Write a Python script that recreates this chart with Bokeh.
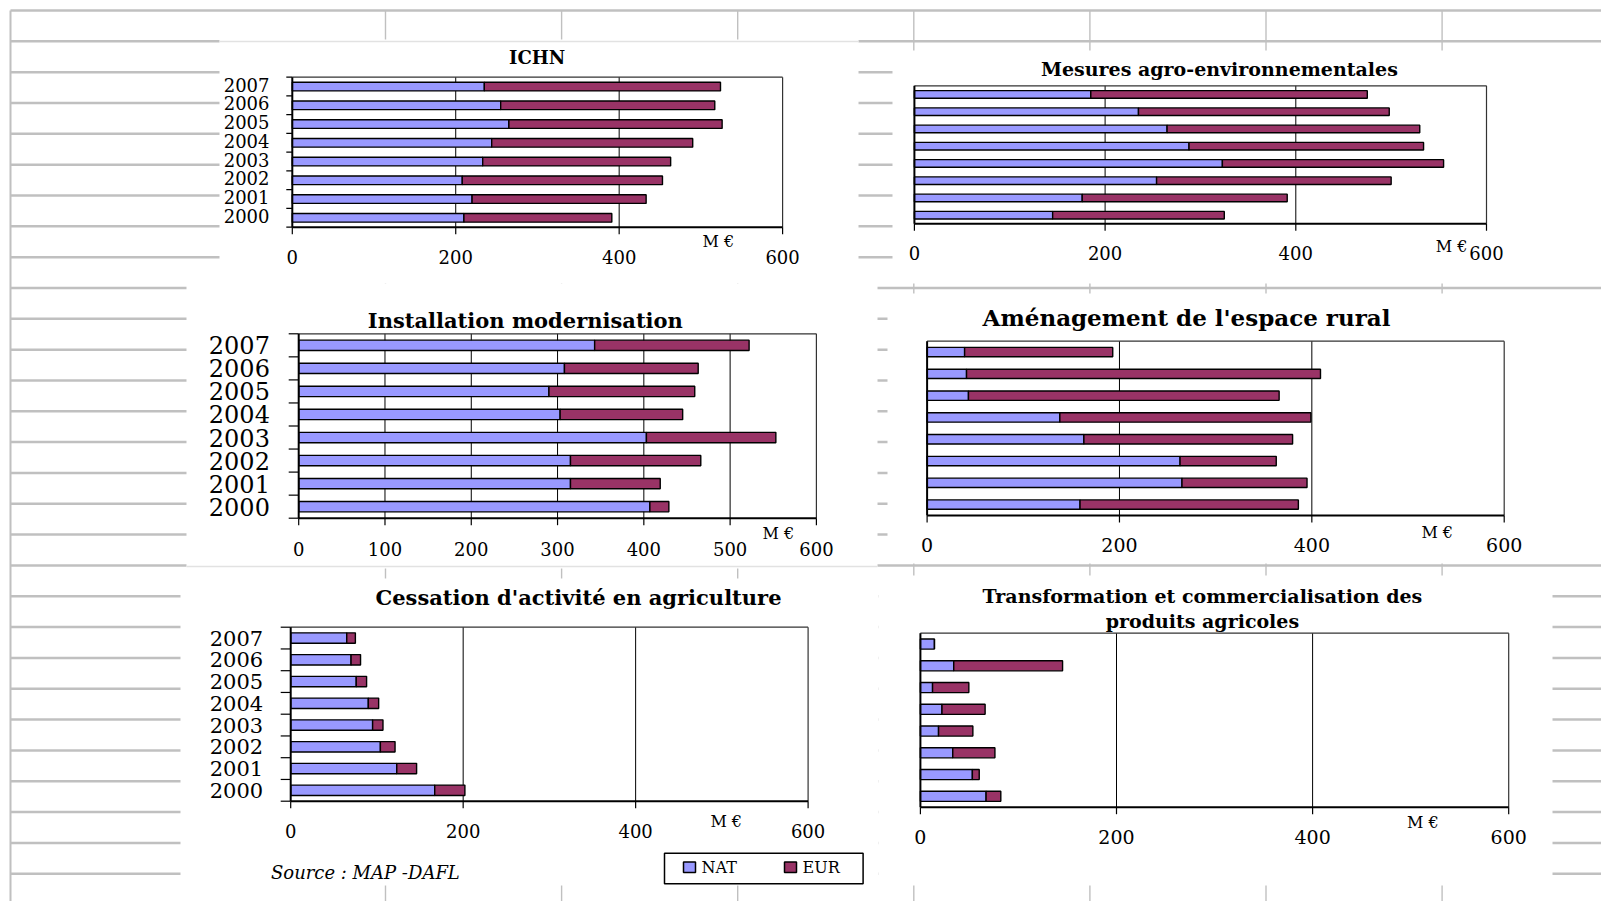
from bokeh.plotting import figure
from bokeh.models import Range1d
from bokeh.core.properties import value
from bokeh.embed import file_html
from bokeh.resources import INLINE

# ---------------- data ----------------
years = [2000, 2001, 2002, 2003, 2004, 2005, 2006, 2007]
ticks_200 = [0, 200, 400, 600]
ticks_100 = [0, 100, 200, 300, 400, 500, 600]
series_names = ["NAT", "EUR"]

ichn_nat = [210, 220, 208, 233, 244, 265, 255, 235]
ichn_eur = [181, 213, 245, 230, 246, 261, 262, 289]

mae_nat = [145, 176, 254, 323, 288, 265, 235, 185]
mae_eur = [180, 215, 246, 232, 246, 265, 263, 290]

inst_nat = [407, 315, 315, 403, 303, 290, 308, 343]
inst_eur = [22, 104, 151, 150, 142, 169, 155, 179]

amen_nat = [159, 265, 263, 163, 138, 43, 41, 39]
amen_eur = [227, 130, 100, 217, 261, 323, 368, 154]

cess_nat = [167, 123, 104, 95, 90, 76, 70, 65]
cess_eur = [35, 23, 17, 12, 12, 12, 11, 10]

trans_nat = [67, 53, 33, 18.5, 22, 12.4, 34, 14.3]
trans_eur = [15, 7, 43, 35, 44, 37, 111, 0]

unit_label = "M €"
source_label = "Source : MAP -DAFL"

# ---------------- style ----------------
NAT_C = "#9999FF"
EUR_C = "#993366"
GRAY = "#c0c0c0"
FONT = value("DejaVu Serif")

W, H = 1601, 901

p = figure(width=W, height=H, x_range=Range1d(0, W), y_range=Range1d(H, 0),
           output_backend="svg", toolbar_location=None, min_border=0,
           x_axis_location=None, y_axis_location=None, outline_line_color=None,
           background_fill_color="white", border_fill_color="white")
p.xgrid.grid_line_color = None
p.ygrid.grid_line_color = None

# ---------------- spreadsheet background ----------------
hy = [10 + 30.83 * k for k in range(29)]
p.segment(x0=[10] * len(hy), x1=[1605] * len(hy), y0=hy, y1=hy,
          line_color=GRAY, line_width=2.5)
vx = [385 + 176.1 * j for j in range(7)]
p.segment(x0=vx, x1=vx, y0=[10] * len(vx), y1=[905] * len(vx),
          line_color=GRAY, line_width=1.4)
p.segment(x0=[10], x1=[10], y0=[10], y1=[905], line_color=GRAY, line_width=2)

# white chart objects covering the sheet
rects = [(219, 858, 39, 283), (892, 1605, 50, 283), (186, 877, 283, 568),
         (887, 1605, 293, 563), (180, 878, 578, 885), (878, 1552, 575, 885)]
p.quad(left=[r[0] for r in rects], right=[r[1] for r in rects],
       top=[r[2] for r in rects], bottom=[r[3] for r in rects],
       fill_color="white", line_color=None)
p.segment(x0=[219, 186], x1=[858, 877], y0=[41, 566], y1=[41, 566],
          line_color="#e2e2e2", line_width=1.5)


def draw_panel(frame, nat, eur, ticks, bar_h, tick_y, tick_size, me_xy,
               title_lines, title_xy, title_size, title_gap=25,
               year_right=None, year_size=None, year_dy=0, left_tick=0):
    x0, x1, yt, yb = frame
    sub = p.subplot(x_source=Range1d(0, 600), y_source=Range1d(1999.5, 2007.5),
                    x_target=Range1d(x0, x1), y_target=Range1d(yb, yt))
    ux = (x1 - x0) / 600.0
    uy = (yb - yt) / 8.0
    lo, hi = 1999.5, 2007.5
    inner = [t for t in ticks if 0 < t < 600]
    n = len(ticks)
    # vertical gridlines
    sub.segment(x0=inner, x1=inner, y0=[lo] * len(inner), y1=[hi] * len(inner),
                line_color="black", line_width=1)
    # top / right border
    sub.segment(x0=[0, 600], x1=[600, 600], y0=[hi, lo], y1=[hi, hi],
                line_color="#333333", line_width=1.2)
    total = [a + b for a, b in zip(nat, eur)]
    sub.hbar(y=years, left=[0] * len(years), right=nat, height=bar_h,
             fill_color=NAT_C, line_color="black", line_width=1.4)
    sub.hbar(y=years, left=nat, right=total, height=bar_h,
             fill_color=EUR_C, line_color="black", line_width=1.4)
    # axis lines
    sub.segment(x0=[0, 0], x1=[600, 0], y0=[lo, lo], y1=[lo, hi],
                line_color="black", line_width=2)
    # bottom tick marks
    dy = 7.0 / uy
    sub.segment(x0=ticks, x1=ticks, y0=[lo] * n, y1=[lo - dy] * n,
                line_color="black", line_width=1.2)
    # tick labels
    ty = lo - (tick_y - yb) / uy
    sub.text(x=ticks, y=[ty] * n, text=[str(t) for t in ticks],
             text_font=FONT, text_font_size=f"{tick_size}px",
             text_align="center", text_baseline="middle", text_color="black")
    if left_tick:
        b = [lo + i for i in range(9)]
        dx = left_tick / ux
        sub.segment(x0=[0] * 9, x1=[-dx] * 9, y0=b, y1=b,
                    line_color="black", line_width=1.2)
    if year_right is not None:
        yx = -(x0 - year_right) / ux
        sub.text(x=[yx] * len(years), y=[yv + year_dy / uy for yv in years],
                 text=[str(v) for v in years], text_font=FONT,
                 text_font_size=f"{year_size}px", text_align="right",
                 text_baseline="middle", text_color="black")
    # unit label
    p.text(x=[me_xy[0]], y=[me_xy[1]], text=[unit_label], text_font=FONT,
           text_font_size="16px", text_align="center", text_baseline="middle",
           text_color="black")
    # title
    tx, tyy = title_xy
    p.text(x=[tx] * len(title_lines),
           y=[tyy + i * title_gap for i in range(len(title_lines))],
           text=title_lines, text_font=FONT, text_font_style="bold",
           text_font_size=f"{title_size}px", text_align="center",
           text_baseline="middle", text_color="black")


draw_panel((291.8, 782.1, 76.7, 226.7), ichn_nat, ichn_eur, ticks_200, 0.46,
           256.7, 18, (717.9, 240.7), ["ICHN"], (536.7, 57.3), 18,
           year_right=269, year_size=18, year_dy=2, left_tick=6)
draw_panel((913.9, 1486.0, 85.3, 223.3), mae_nat, mae_eur, ticks_200, 0.44,
           252.3, 18, (1451, 245.5), ["Mesures agro-environnementales"],
           (1218.9, 68.3), 19)
draw_panel((298.2, 815.9, 333.3, 517.7), inst_nat, inst_eur, ticks_100, 0.45,
           548.3, 18, (777.9, 533.3), ["Installation  modernisation"],
           (528.5, 319.5), 21, year_right=269.4, year_size=24, left_tick=10)
draw_panel((926.6, 1503.7, 340.7, 515.0), amen_nat, amen_eur, ticks_200, 0.43,
           544.0, 19, (1436.7, 531.7), ["Aménagement  de l'espace rural"],
           (1190, 316.7), 23)
draw_panel((290.2, 807.6, 626.7, 800.7), cess_nat, cess_eur, ticks_200, 0.48,
           830.0, 18, (725.7, 820.7), ["Cessation d'activité en agriculture"],
           (578, 596.7), 21, year_right=262.7, year_size=21, left_tick=10)
draw_panel((919.9, 1508.2, 632.7, 806.7), trans_nat, trans_eur, ticks_200, 0.46,
           836.0, 19, (1422.4, 822.3),
           ["Transformation et commercialisation des", "produits agricoles"],
           (1201.9, 595), 19, title_gap=25)

# source
p.text(x=[270.5], y=[871.7], text=[source_label], text_font=FONT,
       text_font_style="italic", text_font_size="18px", text_align="left",
       text_baseline="middle", text_color="black")

# legend
p.quad(left=[664], right=[862.6], top=[852.7], bottom=[883.3],
       fill_color="white", line_color="black", line_width=1.5)
p.quad(left=[683, 784], right=[695, 796], top=[861.5] * 2, bottom=[872] * 2,
       fill_color=[NAT_C, EUR_C], line_color="black", line_width=1.5)
p.text(x=[701, 802], y=[867] * 2, text=series_names, text_font=FONT,
       text_font_size="16px", text_align="left", text_baseline="middle",
       text_color="black")

open("out.html", "w").write(file_html(p, INLINE))
